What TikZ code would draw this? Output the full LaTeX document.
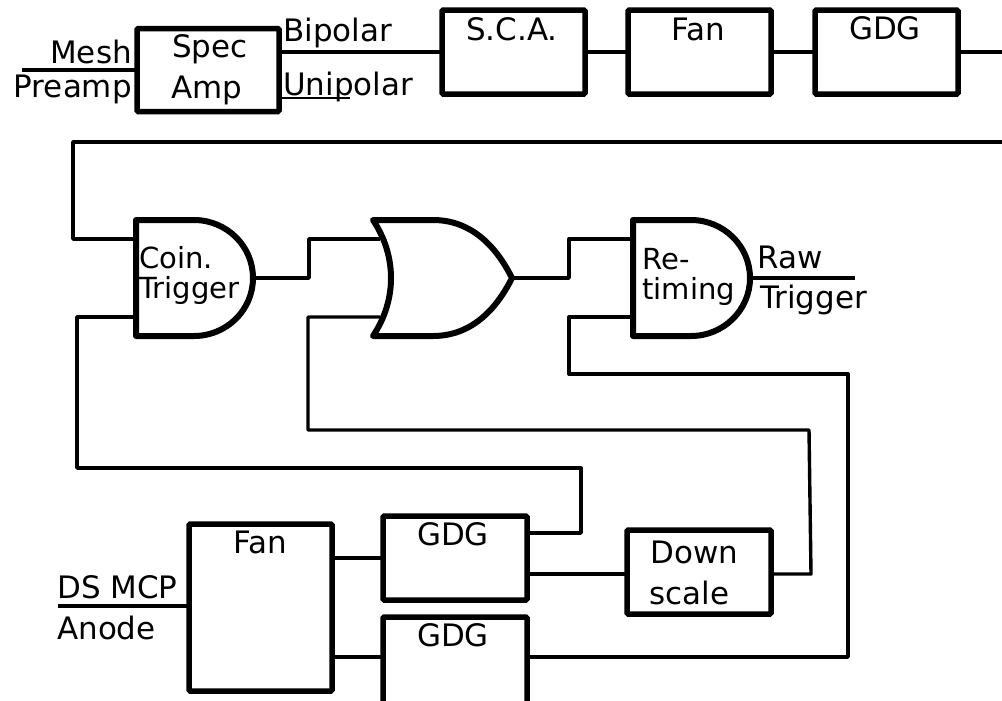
\documentclass[tikz,border=0pt]{standalone}
\usepackage{fontspec}
\setmainfont{DejaVu Sans}
\usetikzlibrary{
  calc,
  positioning
}
\newlength{\px}
\setlength{\px}{0.75pt}
\tikzset{
  block/.style={
    draw=black,
    line width=5.5\px,
    rounded corners=1pt,
    inner sep=0pt,
    outer sep=0pt,
    minimum width=#1
  },
  block/.default=143\px,
  gatebox/.style={inner sep=0pt, outer sep=0pt, minimum height=116\px},
  gateline/.style={line width=6\px, line join=round},
  wire/.style={line width=3.4\px, line join=round},
  thinwire/.style={wire, line width=2.8\px},
  word/.style={font=\fontsize{23.2}{23.2}\selectfont, inner sep=0pt, anchor=base},
  wordleft/.style={word, anchor=base west},
  wordright/.style={word, anchor=base east},
  small/.style={font=\fontsize{21.8}{21.8}\selectfont, inner sep=0pt, anchor=base west}
}
% and gate drawn over an empty node
\newcommand{\andgate}[1]{
  \draw[gateline] (#1.north west) -- ++(58,0)
    arc[start angle=90, end angle=-90, x radius=59\px, y radius=58\px]
    -- (#1.south west) -- cycle;
  \coordinate (#1 in) at ([yshift=-19\px]#1.north west);
  \coordinate (#1 out) at ([yshift=19\px]#1.south west);
}
\begin{document}
\begin{tikzpicture}[x=0.75pt, y=-0.75pt]
  \useasboundingbox (0,0) rectangle (1002,700);

  % top row
  \node[block=142\px, minimum height=83\px] (spec) at (208,70) {};
  \node[block, minimum height=84\px, anchor=north west] (sca) at (442,10) {};
  \node[block, minimum height=84\px, right=43\px of sca] (fana) {};
  \node[block, minimum height=84\px, right=44\px of fana] (gdga) {};
  \coordinate (mesh) at (22,70);
  \coordinate (uni) at (350,98);
  \coordinate (long) at (1002,52);

  \draw[wire] (mesh) -- (spec.west);
  \draw[wire] (spec.east |- sca) -- (sca.west);
  \draw[thinwire] (spec.east |- uni) -- (uni);
  \draw[wire] (sca) -- (fana);
  \draw[wire] (fana) -- (gdga);
  \draw[wire] (gdga) -- (long);

  % gates
  \node[gatebox, minimum width=117\px, anchor=north west] (coin) at (136,220) {};
  \node[gatebox, minimum width=139\px, anchor=north west] (orgate) at (373,220) {};
  \node[gatebox, minimum width=116\px, anchor=north west] (retime) at (633,220) {};
  \andgate{coin}
  \andgate{retime}
  \draw[gateline] (orgate.north west) -- ++(60,0)
    .. controls ++(38,0) and ++(-16,-32) .. (orgate.east)
    .. controls ++(-16,32) and ++(38,0) .. ($(orgate.south west)+(60,0)$)
    -- (orgate.south west)
    .. controls ++(24,-36) and ++(24,36) .. cycle;
  \coordinate (orgate in) at ([shift={(7,19)}]orgate.north west);
  \coordinate (orgate out) at ([shift={(7,-19)}]orgate.south west);

  % bottom row
  \node[block, minimum height=167\px, anchor=north west] (fanb) at (189,524) {};
  \node[block=144\px, minimum height=84\px, anchor=north west] (gdgb) at (383,516) {};
  \node[block=144\px, minimum height=88\px, anchor=north west] (gdgc) at (383,617) {};
  \node[block=144\px, minimum height=84\px, anchor=north west] (down) at (627,530) {};
  \coordinate (ds) at (58,606);
  \coordinate (raw) at (855,278);

  \draw[wire] (ds) -- (fanb.west |- ds);
  \draw[wire] (fanb.east |- 0,558) -- (gdgb.west |- 0,558);
  \draw[wire] (fanb.east |- 0,657) -- (gdgc.west |- 0,657);
  \draw[wire] (gdgb.east |- 0,574) -- (down.west |- 0,574);

  \draw[wire] (long |- 0,142) -- (73,142) |- (coin in);
  \draw[wire] (coin out) -| (77,468) -| (581,533) -- (gdgb.east |- 0,533);
  \draw[wire] (coin.east) -- ++(56,0) |- (orgate in);
  \draw[wire] (orgate.east) -- ++(57,0) |- (retime in);
  \draw[wire] (orgate out) -| (308,430) -- (809,430) -- (811,574) -- (down.east |- 0,574);
  \draw[wire] (retime out) -| (569,374) -| (848,657) -- (gdgc.east |- 0,657);
  \draw[wire] (retime.east) -- (raw);

  % labels
  \node[wordright] (meshtext) at (132,63) {Mesh};
  \node[wordright] (preamptext) at (132,97) {Preamp};
  \node[word] (spectext) at (210,57) {Spec};
  \node[word] (amptext) at (207,98) {Amp};
  \node[wordleft] (bipolartext) at (283,41) {Bipolar};
  \node[wordleft] (unipolartext) at (283,95) {Unipolar};
  \node[word] (scatext) at (512,40) {S.C.A.};
  \node[word] (fanatext) at (698,40) {Fan};
  \node[word] (gdgatext) at (885,39) {GDG};
  \node[small] (cointext) at (139,268) {Coin.};
  \node[small] (triggertext) at (139,298) {Trigger};
  \node[small] (retext) at (642,269) {Re-};
  \node[small] (timingtext) at (642,299) {timing};
  \node[wordleft] (rawtext) at (757,268) {Raw};
  \node[wordleft] (rawtriggertext) at (760,308) {Trigger};
  \node[wordleft] (dstext) at (57,598) {DS MCP};
  \node[wordleft] (anodetext) at (57,639) {Anode};
  \node[word] (fanbtext) at (260,553) {Fan};
  \node[word] (gdgbtext) at (453,545) {GDG};
  \node[word] (gdgctext) at (453,646) {GDG};
  \node[word] (downtext) at (694.5,563) {Down};
  \node[word] (scaletext) at (689.5,604) {scale};
\end{tikzpicture}
\end{document}
